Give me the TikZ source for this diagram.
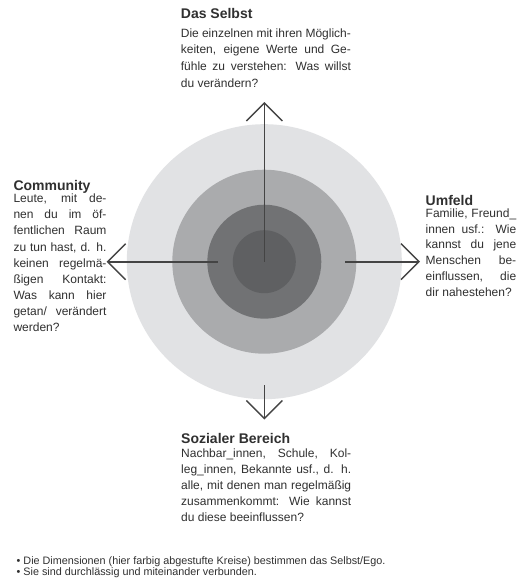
\documentclass[tikz,border=0pt]{standalone}
\usepackage{fontspec}
\setmainfont{Liberation Sans}
\usetikzlibrary{arrows.meta}
\definecolor{ringA}{HTML}{E1E2E4}
\definecolor{ringB}{HTML}{AAABAD}
\definecolor{ringC}{HTML}{717274}
\definecolor{ringD}{HTML}{5F6062}
\definecolor{linec}{HTML}{444444}
\definecolor{txt}{HTML}{303030}
\newcommand\jl[1]{\makebox[\linewidth][s]{#1}\par}
\tikzset{
  ring/.style={circle, inner sep=0pt, draw=none},
  head/.style={anchor=base west, inner sep=0pt, text=txt, font=\fontsize{14}{16}\selectfont\bfseries},
  body/.style={anchor=base west, inner sep=0pt, text=txt},
  arr/.style={draw=linec, line width=1.6pt, -{Straight Barb[length=18pt,width=36pt,line width=1.4pt]}},
}
\begin{document}
\begin{tikzpicture}[x=1pt,y=-1pt]
\path[use as bounding box, fill=white] (0,0) rectangle (517,586);
% rings
\node[ring, fill=ringA, minimum size=275pt] (outer) at (264.3,261.7) {};
\node[ring, fill=ringB, minimum size=184pt] (second) at (264.3,261.7) {};
\node[ring, fill=ringC, minimum size=114pt] (third) at (264.3,261.7) {};
\node[ring, fill=ringD, minimum size=63pt] (inner) at (264.3,261.7) {};
% arrow ends
\coordinate (tipT) at (264.3,102);
\coordinate (startL) at (217.7,261.7);
\coordinate (tipL) at (106.7,261.7);
\coordinate (startR) at (345,261.7);
\coordinate (tipR) at (420,261.7);
\coordinate (startB) at (264.3,385);
\coordinate (tipB) at (264.3,419.5);
\draw[arr] (inner.center) -- (tipT);
\draw[arr] (startL) -- (tipL);
\draw[arr] (startR) -- (tipR);
\draw[arr] (startB) -- (tipB);
% Das Selbst
\node[head] (selbstH) at (180.7,19) {Das Selbst};
\node[body] (selbstT) at (180.7,37.3) {\begin{minipage}[t]{170pt}\fontsize{12}{16.7}\selectfont
\jl{Die einzelnen mit ihren Möglich-}
\jl{keiten, eigene Werte und Ge-}
\jl{fühle zu verstehen: Was willst}
du verändern?\par
\end{minipage}};
% Community
\node[head] (commH) at (13.3,190) {Community};
\node[body] (commT) at (13.3,202.7) {\begin{minipage}[t]{93pt}\fontsize{12}{16.1}\selectfont
\jl{Leute, mit de-}
\jl{nen du im öf-}
\jl{fentlichen Raum}
\jl{zu tun hast, d. h.}
\jl{keinen regelmä-}
\jl{ßigen Kontakt:}
\jl{Was kann hier}
\jl{getan/ verändert}
werden?\par
\end{minipage}};
% Umfeld
\node[head] (umH) at (425.5,205) {Umfeld};
\node[body] (umT) at (425.5,217.3) {\begin{minipage}[t]{90.5pt}\fontsize{12}{15.8}\selectfont
\jl{Familie, Freund\_}
\jl{innen usf.: Wie}
\jl{kannst du jene}
\jl{Menschen be-}
\jl{einflussen, die}
dir nahestehen?\par
\end{minipage}};
% Sozialer Bereich
\node[head] (sozH) at (181,443) {Sozialer Bereich};
\node[body] (sozT) at (181,457.5) {\begin{minipage}[t]{170pt}\fontsize{12}{16}\selectfont
\jl{Nachbar\_innen, Schule, Kol-}
\jl{leg\_innen, Bekannte usf., d. h.}
\jl{alle, mit denen man regelmäßig}
\jl{zusammenkommt: Wie kannst}
du diese beeinflussen?\par
\end{minipage}};
% footer
\node[body] (foot) at (16.5,564.3) {\begin{minipage}[t]{495pt}\fontsize{10.8}{11.4}\selectfont
\textbullet\ Die Dimensionen (hier farbig abgestufte Kreise) bestimmen das Selbst/Ego.\par
\textbullet\ Sie sind durchlässig und miteinander verbunden.\par
\end{minipage}};
\end{tikzpicture}
\end{document}
